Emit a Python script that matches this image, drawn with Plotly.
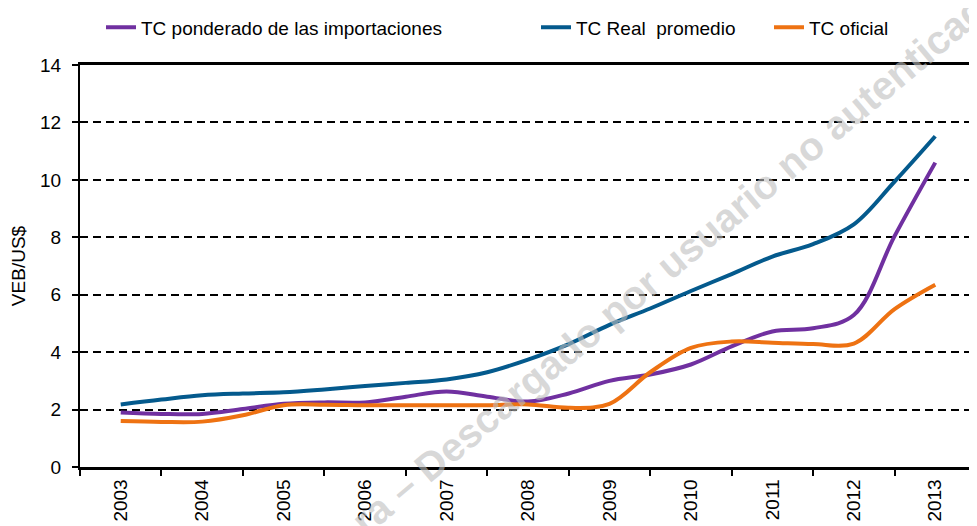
import plotly.graph_objects as go

# Semi-annual positions (year values)
periods = [2003, 2003.5, 2004, 2004.5, 2005, 2005.5, 2006, 2006.5, 2007, 2007.5,
           2008, 2008.5, 2009, 2009.5, 2010, 2010.5, 2011, 2011.5, 2012, 2012.5, 2013]

tc_ponderado = [1.90, 1.85, 1.85, 2.02, 2.20, 2.25, 2.25, 2.45, 2.63, 2.45,
                2.28, 2.56, 3.00, 3.22, 3.57, 4.20, 4.72, 4.83, 5.29, 8.04, 10.60]
tc_real = [2.18, 2.35, 2.50, 2.56, 2.60, 2.70, 2.82, 2.93, 3.05, 3.30,
           3.74, 4.28, 4.95, 5.52, 6.13, 6.72, 7.33, 7.76, 8.45, 9.94, 11.52]
tc_oficial = [1.60, 1.57, 1.58, 1.80, 2.15, 2.17, 2.15, 2.15, 2.15, 2.15,
              2.18, 2.06, 2.20, 3.30, 4.15, 4.37, 4.33, 4.28, 4.30, 5.50, 6.35]

year_ticks = [2003, 2004, 2005, 2006, 2007, 2008, 2009, 2010, 2011, 2012, 2013]
year_labels = [str(y) for y in year_ticks]
boundary_ticks = [2002.5 + i for i in range(12)]

series_names = ["TC ponderado de las importaciones", "TC Real  promedio", "TC oficial"]
colors = ["#7030A0", "#045A8D", "#EE7212"]
legend_ids = ["legend2", "legend3", "legend4"]

FONT = "Liberation Sans, Arial, sans-serif"

fig = go.Figure()
for name, vals, col, leg in zip(series_names, [tc_ponderado, tc_real, tc_oficial], colors, legend_ids):
    fig.add_trace(go.Scatter(
        x=periods, y=vals, name=name, mode="lines",
        line=dict(color=col, width=4, shape="spline", smoothing=1.0),
        legend=leg, showlegend=True,
    ))

# page has an 8px body margin: figure is placed at (8, 8)
OFF = 8
W, H = 977 - OFF, 526 - OFF
ml, mr, mt, mb = 80 - OFF, 1, 60 - OFF, 59
pw = W - ml - mr
ph = H - mt - mb

def px2paper_x(px):
    return (px - OFF - ml) / pw

def px2paper_y(py):
    return (H - mb - (py - OFF)) / ph

legend_common = dict(orientation="h", yanchor="middle", xanchor="left",
                     font=dict(family=FONT, size=19, color="#000"),
                     bgcolor="rgba(0,0,0,0)", borderwidth=0)

fig.update_layout(
    width=W, height=H,
    margin=dict(l=ml, r=mr, t=mt, b=mb),
    paper_bgcolor="white", plot_bgcolor="white",
    font=dict(family=FONT, size=19, color="#000"),
    legend2=dict(x=px2paper_x(101), y=px2paper_y(22), **legend_common),
    legend3=dict(x=px2paper_x(536), y=px2paper_y(22), **legend_common),
    legend4=dict(x=px2paper_x(769), y=px2paper_y(22), **legend_common),
    xaxis=dict(
        range=[2002.5, 2013.5],
        tickvals=year_ticks, ticktext=year_labels,
        tickangle=-90,
        ticks="outside", ticklen=2, tickcolor="rgba(0,0,0,0)",
        minor=dict(tickvals=boundary_ticks, ticks="outside", ticklen=6,
                   tickcolor="#000", tickwidth=1.5, showgrid=False),
        showgrid=False, zeroline=False,
        showline=True, linecolor="#000", linewidth=2.5, mirror=True,
        automargin=False,
        tickfont=dict(family=FONT, size=19, color="#000"),
        fixedrange=True,
    ),
    yaxis=dict(
        range=[0, 14], dtick=2, tick0=0,
        ticks="outside", ticklen=6, tickcolor="#000", tickwidth=1.5,
        ticklabelstandoff=7,
        showline=True, linecolor="#000", linewidth=2,
        showgrid=True, gridcolor="#000", gridwidth=1.6, griddash="8px,5px",
        zeroline=False, automargin=False,
        tickfont=dict(family=FONT, size=19, color="#000"),
        title=dict(text="VEB/US$", font=dict(family=FONT, size=19, color="#000"), standoff=10),
        fixedrange=True,
    ),
    annotations=[dict(
        text="ra – Descargado por usuario no autenticado",
        xref="paper", yref="paper",
        x=px2paper_x(678), y=px2paper_y(254),
        xanchor="center", yanchor="middle",
        textangle=-40, showarrow=False,
        font=dict(family=FONT, size=40, color="rgba(190,190,190,0.6)", weight="bold"),
    )],
)

fig.write_html("out.html")
